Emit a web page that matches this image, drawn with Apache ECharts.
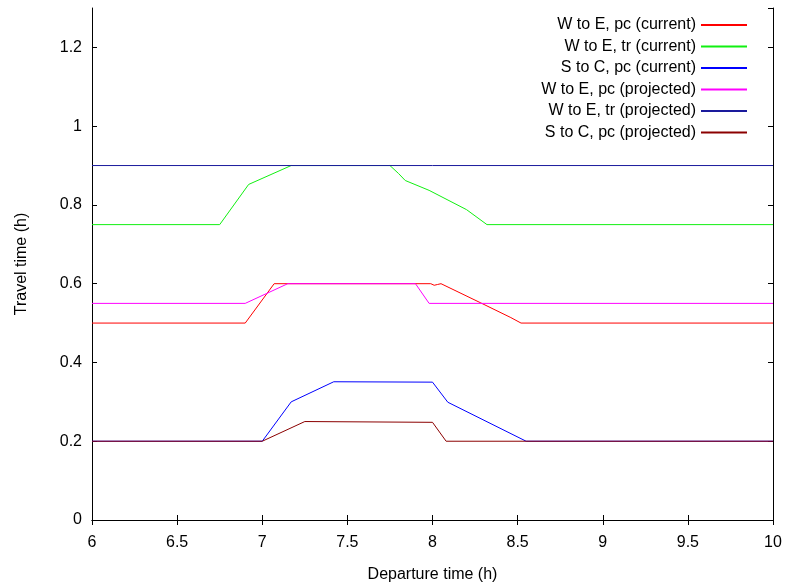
<!DOCTYPE html>
<html>
<head>
<meta charset="utf-8">
<script src="https://cdn.jsdelivr.net/npm/echarts@6/dist/echarts.min.js"></script>
<style>
  html, body { margin: 0; padding: 0; background: #fff; }
  #main { width: 786px; height: 584px; }
</style>
</head>
<body>
<div id="main"></div>
<script>
// 曲线数据：[出发时间(h), 行程时间(h)]
var seriesNames = [
    'W to E, pc (current)',
    'W to E, tr (current)',
    'S to C, pc (current)',
    'W to E, pc (projected)',
    'W to E, tr (projected)',
    'S to C, pc (projected)'
];
var wePcCurrent = [[6, 0.5], [6.9, 0.5], [7.07, 0.6], [7.99, 0.6], [8.01, 0.596], [8.03, 0.598], [8.05, 0.6],
    [8.28, 0.552], [8.46, 0.514], [8.52, 0.5], [10, 0.5]];
var weTrCurrent = [[6, 0.75], [6.75, 0.75], [6.92, 0.852], [7.17, 0.9], [7.75, 0.9], [7.8, 0.88], [7.84, 0.862],
    [7.98, 0.837], [8.2, 0.788], [8.32, 0.75], [10, 0.75]];
var scPcCurrent = [[6, 0.2], [7.0, 0.2], [7.17, 0.3], [7.42, 0.351], [8.0, 0.35], [8.09, 0.299], [8.55, 0.2], [10, 0.2]];
var wePcProjected = [[6, 0.55], [6.9, 0.55], [7.15, 0.6], [7.9, 0.6], [7.98, 0.55], [10, 0.55]];
var weTrProjected = [[6, 0.9], [10, 0.9]];
var scPcProjected = [[6, 0.2], [7.0, 0.2], [7.25, 0.25], [8.0, 0.248], [8.08, 0.2], [10, 0.2]];

var seriesData = [wePcCurrent, weTrCurrent, scPcCurrent, wePcProjected, weTrProjected, scPcProjected];
var colors = ['#ff0000', '#11f011', '#0000ff', '#ff00ff', '#1a1a9c', '#8b0000'];

var myChart = echarts.init(document.getElementById('main'));

var font = 'Liberation Sans, Arial, sans-serif';
var axisLineStyle = { lineStyle: { color: '#000', width: 1 } };

var option = {
    animation: false,
    backgroundColor: '#fff',
    textStyle: { fontFamily: font },
    grid: { left: 92, right: 13, top: 8, bottom: 64, outerBoundsMode: 'none' },
    legend: {
        orient: 'vertical',
        right: 33,
        top: 12,
        align: 'right',
        itemWidth: 46,
        itemHeight: 14,
        itemGap: 5.5,
        itemStyle: { opacity: 0 },
        textStyle: { fontFamily: font, fontSize: 16, color: '#000' },
        data: seriesNames
    },
    xAxis: [{
        type: 'value',
        min: 6, max: 10, interval: 0.5,
        name: 'Departure time (h)',
        nameLocation: 'middle',
        nameGap: 47,
        nameTextStyle: { fontFamily: font, fontSize: 16, color: '#000' },
        axisLine: axisLineStyle,
        axisTick: { inside: true, length: 5, lineStyle: { color: '#000' } },
        axisLabel: { margin: 15, fontFamily: font, fontSize: 16, color: '#000' },
        splitLine: { show: false }
    }, {
        type: 'value', position: 'top',
        min: 6, max: 10, interval: 0.5,
        axisLine: axisLineStyle,
        axisTick: { inside: true, length: 5, lineStyle: { color: '#000' } },
        axisLabel: { show: false },
        splitLine: { show: false }
    }],
    yAxis: [{
        type: 'value',
        min: 0, max: 1.3, interval: 0.2,
        name: 'Travel time (h)',
        nameLocation: 'middle',
        nameGap: 62,
        nameTextStyle: { fontFamily: font, fontSize: 16, color: '#000' },
        axisLine: axisLineStyle,
        axisTick: { inside: true, length: 5, lineStyle: { color: '#000' } },
        axisLabel: { margin: 10, fontFamily: font, fontSize: 16, color: '#000', showMaxLabel: false },
        splitLine: { show: false }
    }, {
        type: 'value', position: 'right',
        min: 0, max: 1.3, interval: 0.2,
        axisLine: axisLineStyle,
        axisTick: { inside: true, length: 5, lineStyle: { color: '#000' } },
        axisLabel: { show: false },
        splitLine: { show: false }
    }],
    series: seriesNames.map(function (name, i) {
        return {
            name: name,
            type: 'line',
            symbol: 'none',
            data: seriesData[i],
            color: colors[i],
            lineStyle: { width: 1, color: colors[i] }
        };
    })
};

myChart.setOption(option);
</script>
</body>
</html>
